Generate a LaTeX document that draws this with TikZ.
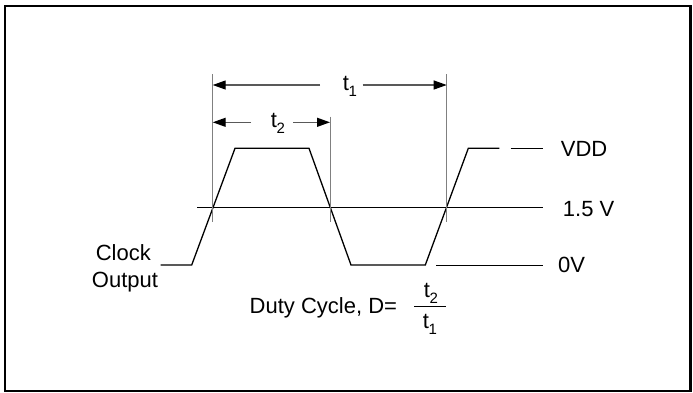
\documentclass[tikz,border=0pt]{standalone}
\usepackage{fontspec}
\setmainfont{Liberation Sans}
\usetikzlibrary{arrows.meta}
\newcommand{\tsub}[1]{t\kern-0.3bp\raisebox{-6bp}{\fontsize{15bp}{15bp}\selectfont #1}}
\begin{document}
\begin{tikzpicture}[x=1bp,y=-1bp,
  wave/.style={line width=1.3bp,draw=black,line join=miter},
  ext/.style={line width=1bp,draw=gray},
  dim/.style={line width=1.2bp,draw=gray!70!black,-{Triangle[length=13bp,width=9bp,color=black]}},
  lbl/.style={inner sep=0pt,font=\fontsize{22bp}{27bp}\selectfont}]
\useasboundingbox (0,0) rectangle (693,392);
\draw[line width=2.4bp] (5,6) rectangle (690.5,390.7);

% waveform points
\coordinate (w0) at (160.7,265);
\coordinate (w1) at (191.7,265);
\coordinate (w2) at (235,148.3);
\coordinate (w3) at (309,148.3);
\coordinate (w4) at (351,265);
\coordinate (w5) at (425.3,265);
\coordinate (w6) at (468.3,148.3);
\coordinate (w7) at (499.3,148.3);
\draw[wave] (w0) -- (w1) -- (w2) -- (w3) -- (w4) -- (w5) -- (w6) -- (w7);

% level lines and labels
\node[lbl,anchor=base west] (vdd) at (560.7,156) {VDD};
\node[lbl,anchor=base west] (v15) at (562.7,216) {1.5 V};
\node[lbl,anchor=base west] (v0) at (558,272.5) {0V};
\coordinate (vddA) at (510.7,148.3);
\coordinate (vddB) at (542.7,148.3);
\coordinate (midA) at (197.3,207.3);
\coordinate (midB) at (542.7,207.3);
\coordinate (zeroA) at (436,265);
\coordinate (zeroB) at (542.7,265);
\draw[line width=1bp] (vddA) -- (vddB);
\draw[line width=1bp] (midA) -- (midB);
\draw[line width=1bp] (zeroA) -- (zeroB);

% extension lines
\coordinate (e1t) at (212.7,74);   \coordinate (e1b) at (212.7,221.7);
\coordinate (e2t) at (330,116.7);  \coordinate (e2b) at (330,221.7);
\coordinate (e3t) at (446.7,74);   \coordinate (e3b) at (446.7,221.7);
\draw[ext] (e1t) -- (e1b);
\draw[ext] (e2t) -- (e2b);
\draw[ext] (e3t) -- (e3b);

% t1 dimension
\node[lbl,anchor=base west] (t1) at (342.7,90) {\tsub{1}};
\coordinate (t1L) at (320,85);  \coordinate (t1R) at (362.7,85);
\coordinate (t1a) at (212.7,85); \coordinate (t1b) at (446.7,85);
\draw[dim] (t1L) -- (t1a);
\draw[dim] (t1R) -- (t1b);

% t2 dimension
\node[lbl,anchor=base west] (t2) at (270.7,127.5) {\tsub{2}};
\coordinate (t2L) at (251,122.3); \coordinate (t2R) at (293,122.3);
\coordinate (t2a) at (212.7,122.3); \coordinate (t2b) at (330,122.3);
\draw[dim] (t2L) -- (t2a);
\draw[dim] (t2R) -- (t2b);

% clock output label
\node[lbl,anchor=base] (clk) at (123.3,260.7) {Clock};
\node[lbl,anchor=base] (out) at (125,287.7) {Output};

% duty cycle
\node[lbl,anchor=base west] (duty) at (249.5,313.3) {Duty Cycle, D=};
\node[lbl,anchor=base] (num) at (431,297.5) {\tsub{2}};
\node[lbl,anchor=base] (den) at (430,328.5) {\tsub{1}};
\coordinate (barA) at (414,306.7); \coordinate (barB) at (446,306.7);
\draw[line width=1bp] (barA) -- (barB);
\end{tikzpicture}
\end{document}
